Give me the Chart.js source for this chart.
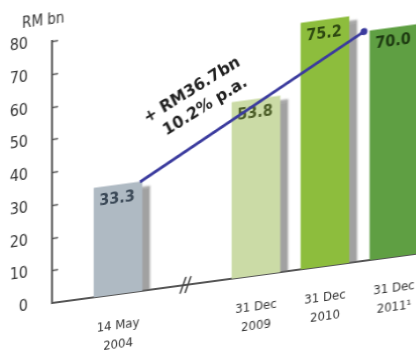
<!DOCTYPE html>
<html>
<head>
<meta charset="utf-8">
<script src="https://cdn.jsdelivr.net/npm/chart.js@4.4.1/dist/chart.umd.min.js"></script>
<style>
  html, body { margin: 0; padding: 0; background: #fff; overflow: hidden; }
  #wrap {
    width: 416px; height: 363px; position: relative;
    /* perspective of the original: baseline rises to the right */
    transform: skewY(-7.7deg);
    transform-origin: 52px 303px;
  }
</style>
</head>
<body>
<div id="wrap"><canvas id="fundChart"></canvas></div>
<script>
// === DATA ===
const dateLabels = [['14 May', '2004'], ['31 Dec', '2009'], ['31 Dec', '2010'], ['31 Dec', '2011\u00b9']];
const slots = [0, 2, 3, 4];          // slot 1 is the axis break
const breakSlot = 1;
const fundSize = [33.3, 53.8, 75.2, 70.0];
const yTicks = [0, 10, 20, 30, 40, 50, 60, 70, 80];
const growthText = ['+ RM36.7bn', '10.2% p.a.'];

const barColors = ['#afbac3', '#cbdba6', '#8dbd3d', '#5f9f43'];
const valueColors = ['#3a4856', '#4a5c26', '#2d4810', '#1c3810'];

const FONT = '"Liberation Sans Narrow", "DejaVu Sans Condensed", "Roboto Condensed", sans-serif';
Chart.defaults.font.family = FONT;
Chart.defaults.color = '#333';

// extra drawing: tick marks, break mark, shadows, value labels, growth line
const extras = {
  id: 'extras',
  beforeDatasetsDraw(chart) {
    const ctx = chart.ctx;
    ctx.save();
    ctx.shadowColor = 'rgba(110,110,110,0.65)';
    ctx.shadowOffsetX = 8;
    ctx.shadowOffsetY = 5;
    ctx.shadowBlur = 2;
  },
  afterDatasetsDraw(chart) {
    const ctx = chart.ctx;
    ctx.restore();
    const { left, top, bottom } = chart.chartArea;
    const y = chart.scales.y, x = chart.scales.x;

    // small inward tick marks on the y axis
    ctx.save();
    ctx.strokeStyle = '#555';
    ctx.lineWidth = 1.5;
    yTicks.forEach(v => {
      if (v === 0) return;
      const py = Math.round(y.getPixelForValue(v)) + 0.5;
      ctx.beginPath();
      ctx.moveTo(left, py);
      ctx.lineTo(left + 6, py);
      ctx.stroke();
    });

    // axis break "//"
    const bx = x.getPixelForValue(breakSlot);
    ctx.strokeStyle = '#444';
    ctx.lineWidth = 1.6;
    [-3, 2].forEach(d => {
      ctx.beginPath();
      ctx.moveTo(bx + d - 4, bottom + 8);
      ctx.lineTo(bx + d + 2, bottom - 8);
      ctx.stroke();
    });

    // unit label
    ctx.fillStyle = '#333';
    ctx.font = '15px ' + FONT;
    ctx.textAlign = 'left';
    ctx.textBaseline = 'middle';
    ctx.fillText('RM bn', left - 30, top - 21);

    // value labels inside bar tops
    const bars = chart.getDatasetMeta(0).data;
    ctx.font = 'bold 16px ' + FONT;
    ctx.textAlign = 'center';
    ctx.textBaseline = 'top';
    bars.forEach((b, i) => {
      ctx.fillStyle = valueColors[i];
      ctx.fillText(fundSize[i].toFixed(1), b.x - 1, b.y + 6);
    });

    // growth line from first to last bar
    const first = bars[0], last = bars[bars.length - 1];
    const x0 = first.x + first.width / 2 - 2, y0 = first.y;
    const x1 = last.x - last.width / 2 - 6, y1 = last.y;
    ctx.strokeStyle = '#3b3b9e';
    ctx.lineWidth = 3;
    ctx.beginPath();
    ctx.moveTo(x0, y0);
    ctx.lineTo(x1, y1);
    ctx.stroke();
    ctx.fillStyle = '#3b3b9e';
    ctx.beginPath();
    ctx.arc(x1, y1, 3.5, 0, Math.PI * 2);
    ctx.fill();

    // growth annotation above the line
    const ang = Math.atan2(y1 - y0, x1 - x0);
    const t = 0.33;
    ctx.translate(x0 + (x1 - x0) * t, y0 + (y1 - y0) * t);
    ctx.rotate(ang + 0.04);
    ctx.fillStyle = '#1e1e1e';
    ctx.font = 'bold 17px ' + FONT;
    ctx.textBaseline = 'middle';
    ctx.textAlign = 'center';
    ctx.fillText(growthText[0], 0, -50);
    ctx.fillText(growthText[1], 4, -28);
    ctx.restore();
  }
};

new Chart(document.getElementById('fundChart'), {
  type: 'bar',
  data: {
    datasets: [{
      data: slots.map((s, i) => ({ x: s, y: fundSize[i] })),
      backgroundColor: barColors,
      borderWidth: 0,
      barThickness: 48,
      clip: { left: false, top: false, right: false, bottom: 0 }
    }]
  },
  options: {
    responsive: true,
    maintainAspectRatio: false,
    animation: false,
    layout: { padding: { top: 41, left: 0, right: 0, bottom: 0 } },
    plugins: { legend: { display: false }, tooltip: { enabled: false } },
    scales: {
      x: {
        type: 'linear',
        offset: false,
        min: -0.957,
        max: 4.32,
        afterBuildTicks: s => { s.ticks = slots.map(v => ({ value: v })); },
        afterFit: s => { s.height = 60; s.paddingLeft = 0; s.paddingRight = 0; },
        border: { color: '#555', width: 2 },
        grid: { display: false },
        ticks: {
          autoSkip: false,
          maxRotation: 0,
          padding: 14,
          color: '#333',
          font: { size: 13, lineHeight: 1.45 },
          callback: v => dateLabels[slots.indexOf(v)]
        }
      },
      y: {
        min: 0,
        max: 80,
        afterBuildTicks: s => { s.ticks = yTicks.map(v => ({ value: v })); },
        afterFit: s => { s.width = 52; },
        border: { color: '#555', width: 2 },
        grid: { display: false },
        ticks: {
          padding: 16,
          color: '#333',
          font: { size: 16 }
        }
      }
    }
  },
  plugins: [extras]
});
</script>
</body>
</html>
